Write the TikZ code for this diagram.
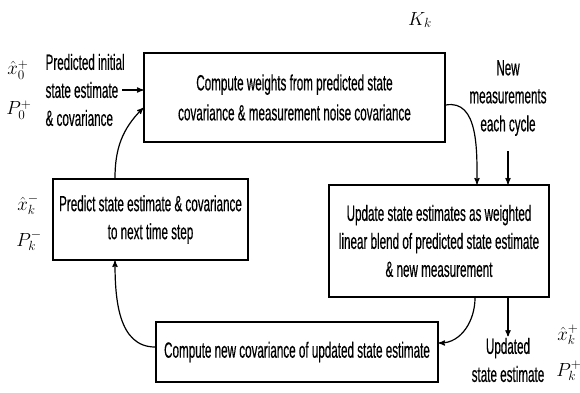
\RequirePackage{fix-cm}
\documentclass[tikz,border=0pt]{standalone}
\usepackage{fontspec}
\setmainfont{Liberation Sans}[FakeStretch=0.53,FakeBold=0.4]
\usetikzlibrary{arrows}

\begin{document}
\begin{tikzpicture}[x=1pt,y=1pt,->,>=stealth',line width=1.2pt,
	every node/.style={font=\fontsize{22}{28}\selectfont},
	stage/.style={draw,line width=1.7pt,align=center,inner sep=0pt},
	note/.style={align=center,inner sep=1pt},
	sym/.style={font=\fontsize{19}{20}\selectfont,inner sep=0pt}]
	\useasboundingbox (0,0) rectangle (580,-392);
	
	% the four stages of the loop
	\node[stage,minimum width=301pt,minimum height=89pt] (weights) at (294.5,-97.5) {Compute weights from predicted state\\[2pt]covariance \& measurement noise covariance};
	\node[stage,minimum width=220pt,minimum height=112pt] (update) at (439,-241) {Update state estimates as weighted\\linear blend of predicted state estimate\\\& new measurement};
	\node[stage,minimum width=282pt,minimum height=60pt] (covnew) at (297,-352) {Compute new covariance of updated state estimate};
	\node[stage,minimum width=195pt,minimum height=81pt] (predict) at (150.5,-219.5) {Predict state estimate \& covariance\\to next time step};
	
	% side texts
	\node[note,align=left,anchor=west] (init) at (44,-90) {Predicted initial\\state estimate\\\& covariance};
	\node[note] (meas) at (508,-98) {New\\measurements\\each cycle};
	\node[note] (updated) at (508,-360) {Updated\\state estimate};
	
	% symbols
	\node[sym] (gain) at (420,-20) {$K_k$};
	\node[sym] (x0) at (18,-70) {$\hat{x}_0^+$};
	\node[sym] (p0) at (19,-110) {$P_0^+$};
	\node[sym] (xm) at (28,-205) {$\hat{x}_k^-$};
	\node[sym] (pm) at (29,-241) {$P_k^-$};
	\node[sym] (xp) at (568,-335) {$\hat{x}_k^+$};
	\node[sym] (pp) at (569,-371) {$P_k^+$};
	
	\path[every node/.style={font=\small}]
	([xshift=-4pt]init.east) edge (init.east -| weights.west)
	([xshift=-35.5pt]predict.north) edge [out=90,in=225] ([yshift=-10.5pt]weights.west)
	([yshift=-7.5pt]weights.east) edge [out=10,in=90] ([xshift=38pt]update.north)
	([yshift=-14pt]meas.south) edge (meas.south |- update.north)
	([xshift=36pt]update.south) edge [out=-90,in=0] ([yshift=9pt]covnew.east)
	([xshift=69pt]update.south) edge (updated.north)
	([yshift=5pt]covnew.west) edge [out=180,in=-90] ([xshift=-35.5pt]predict.south);
	
\end{tikzpicture}
\end{document}
